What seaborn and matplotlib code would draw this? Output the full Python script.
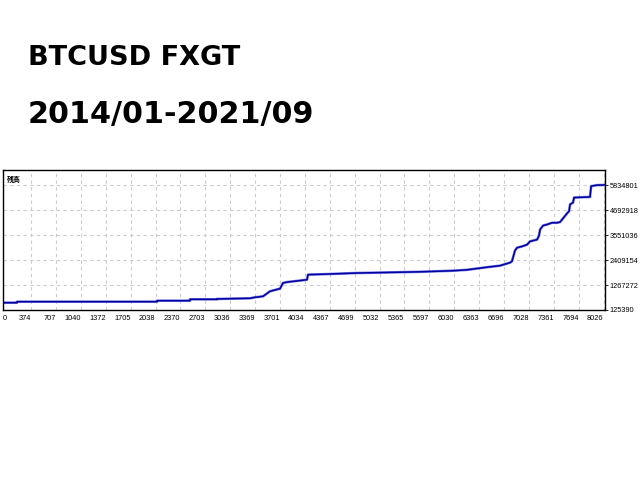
import matplotlib
matplotlib.use("Agg")
import matplotlib.pyplot as plt
import seaborn as sns
import pandas as pd

# ── data (trade number vs balance) ────────────────────────────────────────
trades = [0, 187, 187, 2058, 2058, 2499, 2499, 2860, 2860, 3007, 3301, 3368,
          3475, 3568, 3702, 3742, 3795, 3969, 4063, 4076, 4370, 4731, 5132,
          5573, 5840, 6014, 6201, 6468, 6642, 6776, 6802, 6842, 6869, 6936,
          7003, 7043, 7137, 7163, 7177, 7217, 7270, 7337, 7404, 7444, 7484,
          7538, 7565, 7578, 7618, 7631, 7845, 7859, 7939, 8045]
balance = [459000, 459000, 505000, 505000, 550000, 550000, 614000, 614000,
           630000, 640000, 660000, 705000, 750000, 980000, 1100000, 1360000,
           1400000, 1470000, 1510000, 1740000, 1770000, 1815000, 1840000,
           1870000, 1900000, 1920000, 1960000, 2080000, 2150000, 2290000,
           2350000, 2840000, 2970000, 3030000, 3110000, 3260000, 3340000,
           3520000, 3800000, 3980000, 4030000, 4110000, 4110000, 4140000,
           4310000, 4540000, 4640000, 4950000, 5030000, 5260000, 5290000,
           5780000, 5830000, 5834801]

x_ticks = [0, 374, 707, 1040, 1372, 1705, 2038, 2370, 2703, 3036, 3369,
           3701, 4034, 4367, 4699, 5032, 5365, 5697, 6030, 6363, 6696, 7028,
           7361, 7694, 8026]
y_ticks = [125390, 1267272, 2409154, 3551036, 4692918, 5834801]

title_1 = "BTCUSD FXGT"
title_2 = "2014/01-2021/09"
panel_label = "残高"


def main():
    sns.set_style("white")
    plt.rcParams["font.family"] = ["DejaVu Sans", "Noto Sans CJK JP"]
    plt.rcParams["text.color"] = "black"

    df = pd.DataFrame({"trade": trades, "balance": balance})

    fig = plt.figure(figsize=(6.4, 4.8), dpi=100)
    ax = fig.add_axes([3 / 640, 170 / 480, 602 / 640, 140 / 480])

    # ── equity curve (light fringe + dark core, like the terminal) ────────
    sns.lineplot(data=df, x="trade", y="balance", ax=ax, estimator=None,
                 sort=False, color="#8080e8", linewidth=1.9)
    sns.lineplot(data=df, x="trade", y="balance", ax=ax, estimator=None,
                 sort=False, color="#0000a0", linewidth=1.1)

    step = (y_ticks[-1] - y_ticks[0]) / 125
    ax.set_xlim(0, 8045)
    ax.set_ylim(y_ticks[0], y_ticks[0] + 140 * step)

    # ── grid ──────────────────────────────────────────────────────────────
    for xv in x_ticks[1:]:
        ax.axvline(xv, color="#cccccc", lw=0.8, ls=(0, (3, 3)), zorder=0)
    for yv in y_ticks[1:]:
        ax.axhline(yv, color="#cccccc", lw=0.8, ls=(0, (3, 3)), zorder=0)

    # ── axes / ticks ──────────────────────────────────────────────────────
    ax.set_xticks(x_ticks)
    ax.set_xticklabels([str(v) for v in x_ticks], family="Liberation Sans",
                       fontsize=5.3, color="black")
    for i, lab in enumerate(ax.get_xticklabels()):
        lab.set_ha("left" if i == 0 else "right")
    ax.set_yticks(y_ticks)
    ax.set_yticklabels([str(v) for v in y_ticks], family="Liberation Sans",
                       fontsize=5.3, color="black")
    ax.yaxis.tick_right()
    ax.tick_params(axis="both", length=2, width=0.6, pad=1.5, colors="black")
    ax.set_xlabel("")
    ax.set_ylabel("")
    for sp in ax.spines.values():
        sp.set_color("black")
        sp.set_linewidth(1.0)

    ax.text(0.006, 0.955, panel_label, transform=ax.transAxes,
            fontsize=5, fontweight="bold", va="top", ha="left",
            family=["Noto Sans CJK JP", "DejaVu Sans"])

    # ── titles ────────────────────────────────────────────────────────────
    fig.text(28 / 640, 1 - 65 / 480, title_1, fontsize=19.5,
             fontweight="bold", va="baseline", ha="left", color="black")
    fig.text(28 / 640, 1 - 123 / 480, title_2, fontsize=21.7,
             fontweight="bold", va="baseline", ha="left", color="black")

    fig.savefig("out.png", dpi=100)


if __name__ == "__main__":
    main()
